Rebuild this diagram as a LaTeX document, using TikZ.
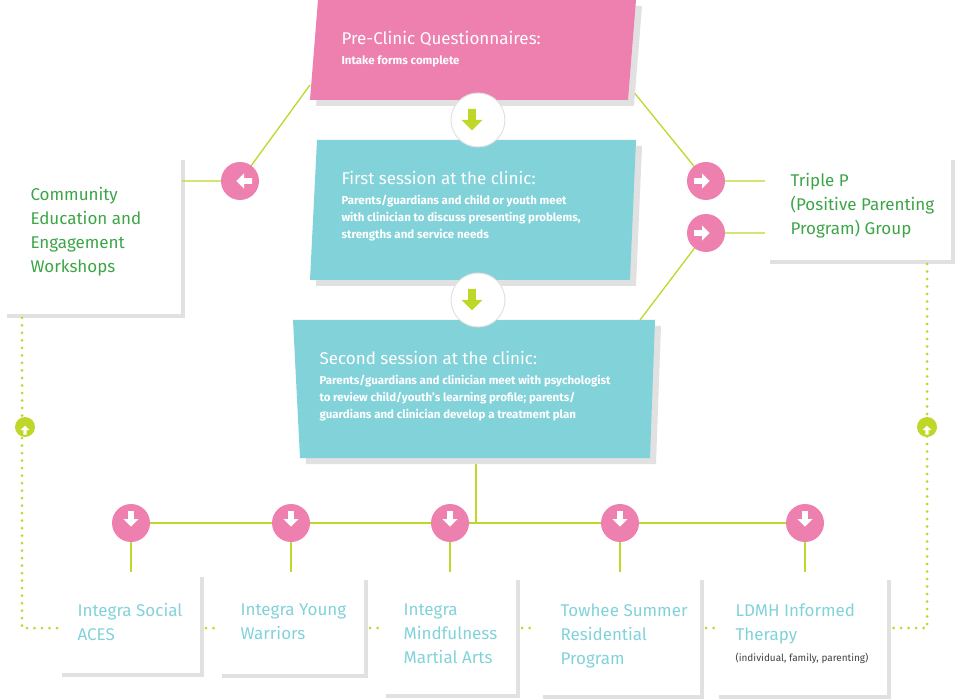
\documentclass[tikz,border=0pt]{standalone}
\usepackage{fontspec}
\setmainfont{Fira Sans}
\usetikzlibrary{calc}
\definecolor{pinkbox}{RGB}{238,128,176}
\definecolor{tealbox}{RGB}{130,210,218}
\definecolor{lime}{RGB}{190,215,40}
\definecolor{greentext}{RGB}{60,165,70}
\definecolor{greyline}{RGB}{225,225,225}

\tikzset{
	link/.style={lime,line width=1.3pt},
	dots/.style={lime,line width=3pt,line cap=round,dash pattern=on 0pt off 7.5pt},
	frame/.style={greyline,line width=4.5pt},
	pinkdot/.style={circle,fill=pinkbox,minimum size=38pt,inner sep=0pt},
	whitedot/.style={circle,fill=white,draw=greyline,line width=1pt,minimum size=54pt,inner sep=0pt},
	updot/.style={circle,fill=lime,minimum size=20pt,inner sep=0pt},
	boxtitle/.style={anchor=north west,align=left,font=\fontsize{17}{24}\selectfont},
	boxbody/.style={anchor=north west,align=left,text=white,font=\bfseries\fontsize{11.5}{17}\selectfont},
}
\newcommand{\arrowglyph}[4]{% position, angle, colour, size
	\fill[#3,rotate around={#2:#1}] ($#1+(-#4,-0.35*#4)$) -- ++(#4,0) -- ++(0,-0.6*#4) -- ++(0.95*#4,0.95*#4) -- ++(-0.95*#4,0.95*#4) -- ++(0,-0.6*#4) -- ++(-#4,0) -- cycle;}

\begin{document}
\begin{tikzpicture}[x=1pt,y=-1pt]
	\useasboundingbox (0,0) rectangle (961,700);
	%	side frames
	\draw[frame] (7,316) -- (183,316) -- (183,160);
	\draw[frame] (770,262) -- (953,262) -- (953,160);
	\foreach \l/\r/\t/\b in {62/202/577/675, 222/366/580/676, 386/518/580/696, 543/702/580/697, 719/889/580/697}
		\draw[frame] (\l,\b) -- (\r,\b) -- (\r,\t);
	%	dotted feedback paths
	\draw[dots] (22,318) -- (22,628) -- (60,628);
	\draw[dots] (927,264) -- (927,628) -- (890,628);
	\foreach \a/\b in {206/216, 370/381, 522/534, 706/716}
		\draw[dots] (\a,628) -- (\b,628);
	%	connectors
	\draw[link] (310,85) -- (240,181) -- (182,181);
	\draw[link] (628,85) -- (706,181) -- (765,181);
	\draw[link] (640,320) -- (706,233) -- (765,233);
	\draw[link] (476,458) -- (476,523);
	\draw[link] (131,523) -- (805,523);
	\foreach \x in {131,291,450,620,805}
		\draw[link] (\x,523) -- (\x,572);
	%	main boxes
	\fill[greyline] (324,6) -- (642,6) -- (634,106) -- (316,106) -- cycle;
	\fill[pinkbox] (318,0) -- (636,0) -- (628,100) -- (310,100) -- cycle;
	\fill[greyline] (323,146) -- (642,146) -- (636,286) -- (316,286) -- cycle;
	\fill[tealbox] (317,140) -- (636,140) -- (630,280) -- (310,280) -- cycle;
	\fill[greyline] (299,326) -- (661,326) -- (656,464) -- (306,464) -- cycle;
	\fill[tealbox] (293,320) -- (655,320) -- (650,458) -- (300,458) -- cycle;
	\node[boxtitle,text=white] (pre) at (338,28) {Pre-Clinic Questionnaires:};
	\node[boxbody] (prebody) at (338,52) {Intake forms complete};
	\node[boxtitle,text=white] (first) at (338,168) {First session at the clinic:};
	\node[boxbody] (firstbody) at (338,192) {Parents/guardians and child or youth meet\\with clinician to discuss presenting problems,\\strengths and service needs};
	\node[boxtitle,text=white] (second) at (316,348) {Second session at the clinic:};
	\node[boxbody] (secondbody) at (316,372) {Parents/guardians and clinician meet with psychologist\\to review child/youth's learning profile; parents/\\guardians and clinician develop a treatment plan};
	%	step circles
	\foreach \y/\n in {120/stepa,300/stepb} {
		\node[whitedot] (\n) at (478,\y) {};
		\arrowglyph{(472,\y)}{270}{lime}{11}
	}
	\node[pinkdot] (toleft) at (240,181) {};
	\arrowglyph{(244,181)}{180}{white}{8}
	\foreach \y/\n in {181/toright,233/toright2} {
		\node[pinkdot] (\n) at (706,\y) {};
		\arrowglyph{(702,\y)}{0}{white}{8}
	}
	\foreach \x/\n in {131/pa,291/pb,450/pc,620/pd,805/pe} {
		\node[pinkdot] (\n) at (\x,523) {};
		\arrowglyph{(\x,519)}{270}{white}{8}
	}
	\foreach \x/\n in {25/upleft,927/upright} {
		\node[updot] (\n) at (\x,427) {};
		\arrowglyph{(\x,430)}{90}{white}{4.5}
	}
	%	side and bottom labels
	\node[boxtitle,text=greentext] (community) at (27,184) {Community\\Education and\\Engagement\\Workshops};
	\node[boxtitle,text=greentext] (triple) at (787,170) {Triple P\\(Positive Parenting\\Program) Group};
	\node[boxtitle,text=tealbox] (aces) at (74,600) {Integra Social\\ACES};
	\node[boxtitle,text=tealbox] (warriors) at (237,600) {Integra Young\\Warriors};
	\node[boxtitle,text=tealbox] (martial) at (400,600) {Integra\\Mindfulness\\Martial Arts};
	\node[boxtitle,text=tealbox] (towhee) at (557,600) {Towhee Summer\\Residential\\Program};
	\node[boxtitle,text=tealbox] (ldmh) at (732,600) {LDMH Informed\\Therapy};
	\node[anchor=north west,text=black!75,font=\fontsize{10}{12}\selectfont] (ldmhnote) at (732,650) {(individual, family, parenting)};
\end{tikzpicture}
\end{document}
